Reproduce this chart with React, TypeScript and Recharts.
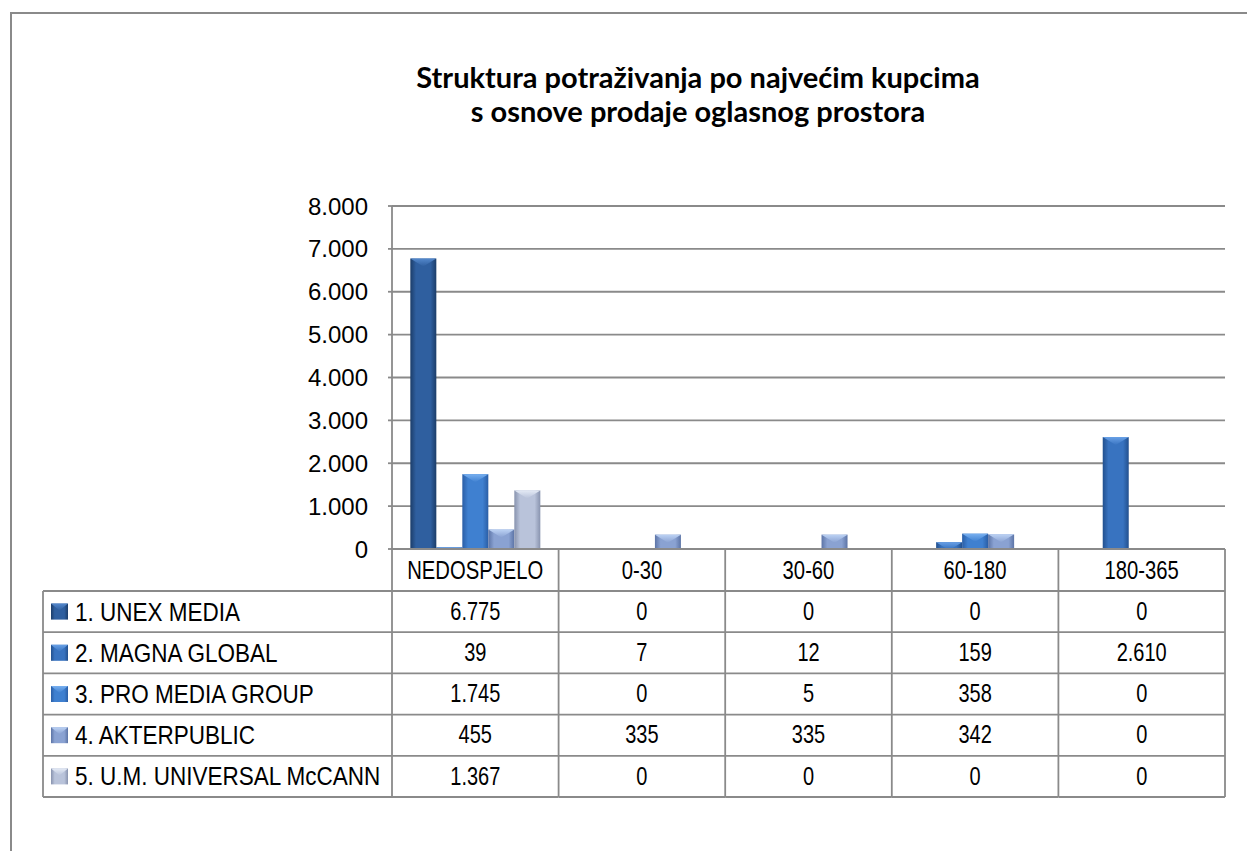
import React from 'react';
import { BarChart, Bar, XAxis, YAxis, CartesianGrid } from 'recharts';

// ---------- data ----------
const categories = ['NEDOSPJELO', '0-30', '30-60', '60-180', '180-365'];
const seriesNames = [
  '1. UNEX MEDIA',
  '2. MAGNA GLOBAL',
  '3. PRO MEDIA GROUP',
  '4. AKTERPUBLIC',
  '5. U.M. UNIVERSAL McCANN',
];
const unexMedia = [6775, 0, 0, 0, 0];
const magnaGlobal = [39, 7, 12, 159, 2610];
const proMediaGroup = [1745, 0, 5, 358, 0];
const akterpublic = [455, 335, 335, 342, 0];
const umUniversal = [1367, 0, 0, 0, 0];
const yTicks = [0, 1000, 2000, 3000, 4000, 5000, 6000, 7000, 8000];

const seriesValues = [unexMedia, magnaGlobal, proMediaGroup, akterpublic, umUniversal];
const seriesKeys = ['s0', 's1', 's2', 's3', 's4'];

const data = categories.map((c, i) => {
  const row: any = { category: c };
  seriesKeys.forEach((k, s) => {
    row[k] = seriesValues[s][i];
  });
  return row;
});

// ---------- styles ----------
const colors = [
  { edge: '#1c3d69', mid: '#2f5f9f', top: '#5488cc' },
  { edge: '#22508e', mid: '#3873c0', top: '#68a0e6' },
  { edge: '#2a5ea6', mid: '#3f80d0', top: '#78b0f0' },
  { edge: '#5c74a6', mid: '#8aa2d2', top: '#bcd2f4' },
  { edge: '#8893ae', mid: '#b9c3da', top: '#e4eaf5' },
];

const CHART_W = 1247;
const CHART_H = 851;
const Y_W = 120;
const X_H = 260;
const MARGIN = { top: 206, right: 22, left: 272, bottom: 42 };
const PLOT_LEFT = MARGIN.left + Y_W;
const PLOT_W = CHART_W - PLOT_LEFT - MARGIN.right;
const BAND = PLOT_W / categories.length;
const HEADER_H = 42;
const ROW_H = 41.2;
const TABLE_LEFT = 43;
const LINE = '#8a8a8a';
const LINE_W = 1.8;
const SANS = "'Liberation Sans', Arial, sans-serif";

function fmt(v: number): string {
  return String(v).replace(/\B(?=(\d{3})+(?!\d))/g, '.');
}

function NText({
  x,
  y,
  anchor,
  sx,
  children,
}: {
  x: number;
  y: number;
  anchor: 'start' | 'middle' | 'end';
  sx: number;
  children: any;
}) {
  return (
    <text
      transform={`translate(${x},${y}) scale(${sx},1)`}
      x={0}
      y={0}
      textAnchor={anchor}
      dominantBaseline="central"
      style={{ fontFamily: SANS, fontSize: 25, fill: '#000' }}
    >
      {children}
    </text>
  );
}

function bevelPoints(x: number, y: number, w: number, h: number): string {
  const b = Math.min(8, h);
  const k = (b * (w / 2)) / 8;
  return `${x},${y} ${x + w},${y} ${x + w - k},${y + b} ${x + k},${y + b}`;
}

function makeShape(s: number) {
  return (props: any) => {
    const { x, y, width, height } = props;
    if (!height || height <= 0) return <g />;
    return (
      <g>
        <rect x={x} y={y} width={width} height={height} fill={`url(#barGrad${s})`} />
        <polygon points={bevelPoints(x, y, width, height)} fill={`url(#topGrad${s})`} />
      </g>
    );
  };
}

function Icon({ x, y, s }: { x: number; y: number; s: number }) {
  const w = 17;
  const h = 16;
  return (
    <g>
      <rect x={x} y={y} width={w} height={h} fill={`url(#barGrad${s})`} />
      <polygon points={`${x},${y} ${x + w},${y} ${x + w / 2},${y + 7}`} fill={`url(#topGrad${s})`} />
    </g>
  );
}

function TableTick(props: any) {
  const { x, y, payload } = props;
  const i = categories.indexOf(payload.value);
  const left = x - BAND / 2;
  const right = x + BAND / 2;
  const nRows = seriesNames.length;
  const bottom = y + HEADER_H + ROW_H * nRows;
  return (
    <g>
      {i === 0 && (
        <g>
          <line x1={left} y1={y} x2={left} y2={bottom} stroke={LINE} strokeWidth={LINE_W} />
          <line x1={TABLE_LEFT} y1={y + HEADER_H} x2={TABLE_LEFT} y2={bottom} stroke={LINE} strokeWidth={LINE_W} />
          {seriesNames.map((n, r) => (
            <g key={n}>
              <line
                x1={TABLE_LEFT}
                y1={y + HEADER_H + r * ROW_H}
                x2={left}
                y2={y + HEADER_H + r * ROW_H}
                stroke={LINE}
                strokeWidth={LINE_W}
              />
              <Icon x={TABLE_LEFT + 8} y={y + HEADER_H + (r + 0.5) * ROW_H - 8} s={r} />
              <NText x={TABLE_LEFT + 32} y={y + HEADER_H + (r + 0.5) * ROW_H} anchor="start" sx={0.9}>
                {n}
              </NText>
            </g>
          ))}
          <line x1={TABLE_LEFT} y1={bottom} x2={left} y2={bottom} stroke={LINE} strokeWidth={LINE_W} />
        </g>
      )}
      <line x1={right} y1={y} x2={right} y2={bottom} stroke={LINE} strokeWidth={LINE_W} />
      {seriesNames.map((n, r) => (
        <line
          key={n}
          x1={left}
          y1={y + HEADER_H + r * ROW_H}
          x2={right}
          y2={y + HEADER_H + r * ROW_H}
          stroke={LINE}
          strokeWidth={LINE_W}
        />
      ))}
      <line x1={left} y1={bottom} x2={right} y2={bottom} stroke={LINE} strokeWidth={LINE_W} />
      <NText x={x} y={y + HEADER_H / 2} anchor="middle" sx={0.81}>
        {payload.value}
      </NText>
      {seriesValues.map((vals, r) => (
        <NText key={r} x={x} y={y + HEADER_H + (r + 0.5) * ROW_H} anchor="middle" sx={0.8}>
          {fmt(vals[i])}
        </NText>
      ))}
    </g>
  );
}

export default function App() {
  return (
    <div
      style={{
        position: 'absolute',
        left: 0,
        top: 0,
        width: CHART_W,
        height: CHART_H,
        overflow: 'hidden',
        background: '#fff',
      }}
    >
      <svg width={0} height={0} style={{ position: 'absolute' }}>
        <defs>
          {colors.map((c, s) => (
            <linearGradient key={`b${s}`} id={`barGrad${s}`} x1="0" y1="0" x2="1" y2="0">
              <stop offset="0%" stopColor={c.edge} />
              <stop offset="22%" stopColor={c.mid} />
              <stop offset="78%" stopColor={c.mid} />
              <stop offset="100%" stopColor={c.edge} />
            </linearGradient>
          ))}
          {colors.map((c, s) => (
            <linearGradient key={`t${s}`} id={`topGrad${s}`} x1="0" y1="0" x2="0" y2="1">
              <stop offset="0%" stopColor={c.top} />
              <stop offset="100%" stopColor={c.mid} />
            </linearGradient>
          ))}
        </defs>
      </svg>
      <div
        style={{
          position: 'absolute',
          left: 10,
          top: 12,
          width: 1400,
          height: 1000,
          border: '2px solid #8a8a8a',
        }}
      />
      <div
        style={{
          position: 'absolute',
          left: 348,
          top: 60,
          width: 700,
          textAlign: 'center',
          fontFamily: "Lato, 'Open Sans', sans-serif",
          fontWeight: 700,
          fontSize: 29,
          lineHeight: '34px',
          color: '#000',
        }}
      >
        <div>Struktura potraživanja po najvećim kupcima</div>
        <div>s osnove prodaje oglasnog prostora</div>
      </div>
      <div style={{ position: 'absolute', left: 0, top: 0 }}>
        <BarChart
          width={CHART_W}
          height={CHART_H}
          data={data}
          margin={MARGIN}
          barCategoryGap="11%"
          barGap={0}
        >
          <CartesianGrid vertical={false} stroke={LINE} strokeWidth={LINE_W} />
          <XAxis
            dataKey="category"
            height={X_H}
            axisLine={{ stroke: LINE, strokeWidth: LINE_W }}
            tickLine={false}
            tickSize={0}
            tickMargin={0}
            interval={0}
            tick={<TableTick />}
          />
          <YAxis
            width={Y_W}
            domain={[0, 8000]}
            ticks={yTicks}
            interval={0}
            tickFormatter={(v: number) => fmt(v)}
            axisLine={{ stroke: LINE, strokeWidth: LINE_W }}
            tickLine={{ stroke: LINE, strokeWidth: LINE_W }}
            tickSize={4}
            tickMargin={20}
            tick={{ fontFamily: SANS, fontSize: 24, fill: '#000' }}
          />
          {seriesKeys.map((k, s) => (
            <Bar
              key={k}
              dataKey={k}
              name={seriesNames[s]}
              isAnimationActive={false}
              shape={makeShape(s)}
            />
          ))}
        </BarChart>
      </div>
    </div>
  );
}
